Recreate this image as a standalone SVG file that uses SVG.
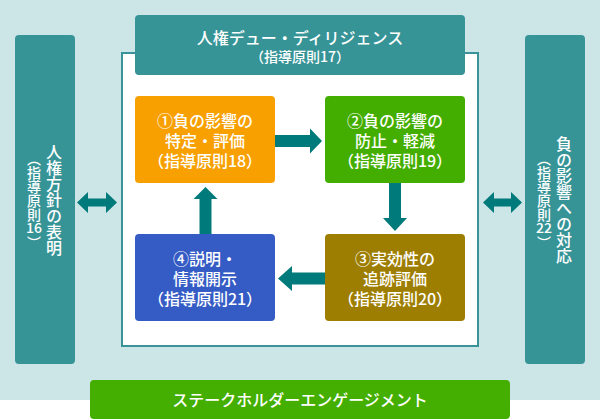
<svg xmlns="http://www.w3.org/2000/svg" width="600" height="420" viewBox="0 0 600 420">
<style>
.t{font-family:"Noto Sans CJK JP","Noto Sans",sans-serif;fill:#fff;font-weight:500}
.c{text-anchor:middle}
.v{writing-mode:vertical-rl}
.side{fill:#369497}
.arr{fill:#007a7a}
</style>
<rect x="0" y="0" width="600" height="420" fill="#fff"/>
<rect x="0" y="0" width="600" height="400" fill="#cce5e7"/>
<rect x="122" y="53" width="356" height="293" fill="#fff" stroke="#3a9399" stroke-width="2"/>

<g id="header">
<rect x="135" y="15" width="330" height="60" rx="4" class="side"/>
<text class="t c" x="300" y="44" font-size="16">人権デュー・ディリジェンス</text>
<text class="t c" x="300" y="62" font-size="14">（指導原則17）</text>
</g>

<g id="left">
<rect x="15" y="35" width="60" height="329" rx="4" class="side"/>
<text class="t c v" x="54" y="200" font-size="16">人権方針の表明</text>
<text class="t v" x="34" y="152" font-size="14">（指導原則</text>
<text class="t c" x="34" y="233" font-size="14">16</text>
<text class="t v" x="34" y="236" font-size="14">）</text>
</g>

<g id="right">
<rect x="525" y="35" width="60" height="329" rx="4" class="side"/>
<text class="t c v" x="564" y="200" font-size="16">負の影響への対応</text>
<text class="t v" x="544" y="152" font-size="14">（指導原則</text>
<text class="t c" x="544" y="233" font-size="14">22</text>
<text class="t v" x="544" y="236" font-size="14">）</text>
</g>

<g id="n1">
<rect x="135" y="96" width="140" height="87" rx="4" fill="#f8a000"/>
<text class="t c" x="205" y="127" font-size="16">①負の影響の</text>
<text class="t c" x="205" y="147" font-size="16">特定・評価</text>
<text class="t c" x="205" y="167" font-size="16">（指導原則18）</text>
</g>
<g id="n2">
<rect x="325" y="96" width="140" height="87" rx="4" fill="#44ae00"/>
<text class="t c" x="395" y="127" font-size="16">②負の影響の</text>
<text class="t c" x="395" y="147" font-size="16">防止・軽減</text>
<text class="t c" x="395" y="167" font-size="16">（指導原則19）</text>
</g>
<g id="n3">
<rect x="325" y="234" width="140" height="87" rx="4" fill="#9e7e00"/>
<text class="t c" x="395" y="265" font-size="16">③実効性の</text>
<text class="t c" x="395" y="285" font-size="16">追跡評価</text>
<text class="t c" x="395" y="305" font-size="16">（指導原則20）</text>
</g>
<g id="n4">
<rect x="135" y="234" width="140" height="87" rx="4" fill="#355bc5"/>
<text class="t c" x="205" y="265" font-size="16">④説明・</text>
<text class="t c" x="205" y="285" font-size="16">情報開示</text>
<text class="t c" x="205" y="305" font-size="16">（指導原則21）</text>
</g>

<g id="banner">
<rect x="90" y="380" width="420" height="39" rx="4" fill="#44af00"/>
<text class="t c" x="300" y="406" font-size="16">ステークホルダーエンゲージメント</text>
</g>

<g id="connectors" class="arr">
<polygon points="275,135 310,135 310,128.5 322,141 310,153.5 310,147 275,147"/>
<polygon points="389,183 401,183 401,218 407,218 395,231 383,218 389,218"/>
<polygon points="325,272.5 292,272.5 292,266 278,278.5 292,291 292,284.5 325,284.5"/>
<polygon points="199.5,234 199.5,199 193.5,199 205.5,187 217.5,199 211.5,199 211.5,234"/>
<polygon points="77,202.5 88,192 88,198.5 106,198.5 106,192 117,202.5 106,213 106,206.5 88,206.5 88,213"/>
<polygon points="483,202.5 494,192 494,198.5 511,198.5 511,192 522,202.5 511,213 511,206.5 494,206.5 494,213"/>
</g>
</svg>
